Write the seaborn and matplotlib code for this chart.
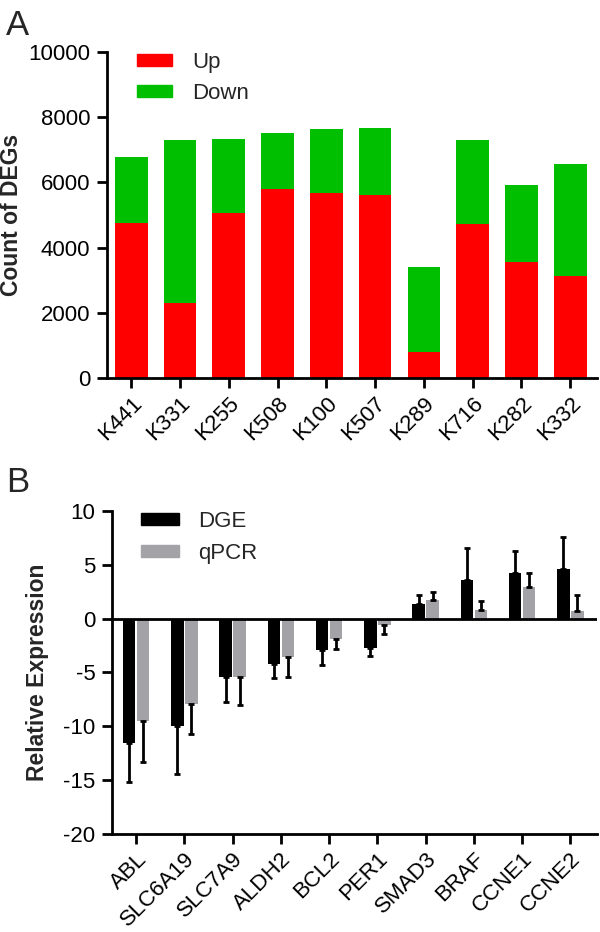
import numpy as np
import pandas as pd
import matplotlib
matplotlib.use("Agg")
import matplotlib.pyplot as plt
import seaborn as sns
from matplotlib.patches import Patch

# ---------------- data ----------------
samples = ["K441", "K331", "K255", "K508", "K100", "K507", "K289", "K716", "K282", "K332"]
up_counts = [4760, 2310, 5055, 5810, 5690, 5605, 805, 4730, 3560, 3115]
total_counts = [6780, 7305, 7335, 7520, 7640, 7680, 3405, 7315, 5930, 6565]

genes = ["ABL", "SLC6A19", "SLC7A9", "ALDH2", "BCL2", "PER1", "SMAD3", "BRAF", "CCNE1", "CCNE2"]
dge_mean = [-11.55, -9.95, -5.4, -4.2, -2.95, -2.7, 1.4, 3.6, 4.2, 4.6]
dge_sd = [3.65, 4.45, 2.3, 1.35, 1.4, 0.8, 0.75, 2.95, 2.1, 3.0]
qpcr_mean = [-9.55, -7.9, -5.45, -3.6, -1.9, -0.6, 1.7, 0.8, 2.95, 0.75]
qpcr_sd = [3.75, 2.8, 2.55, 1.85, 0.9, 0.8, 0.75, 0.85, 1.3, 1.45]

RED = "#FF0000"
GREEN = "#00BF00"
BLACK = "#000000"
GRAY = "#A3A3A7"

sns.set_style("ticks")
plt.rcParams["font.family"] = ["Liberation Sans", "DejaVu Sans"]
plt.rcParams.update({
    "axes.linewidth": 2,
    "axes.unicode_minus": False,
    "xtick.major.width": 2,
    "ytick.major.width": 2,
    "xtick.major.size": 7,
    "ytick.major.size": 7,
    "ytick.major.pad": 5,
    "xtick.labelsize": 16,
    "ytick.labelsize": 16,
    "xtick.color": "black",
    "ytick.color": "black",
    "axes.edgecolor": "black",
})

fig = plt.figure(figsize=(6, 9.32), dpi=100)
ax1 = fig.add_axes([0.178, 0.5944, 0.817, 0.3498])
ax2 = fig.add_axes([0.1867, 0.1052, 0.808, 0.3466])

# =====================================================
# PANEL A — stacked DEG counts
# =====================================================
sns.barplot(x=samples, y=total_counts, color=GREEN, saturation=1,
            width=0.67, linewidth=0, ax=ax1)
sns.barplot(x=samples, y=up_counts, color=RED, saturation=1,
            width=0.67, linewidth=0, ax=ax1)
ax1.set_ylim(0, 10000)
ax1.set_xlim(-0.5, 9.55)
ax1.set_yticks(range(0, 10001, 2000))
ax1.set_ylabel("Count of DEGs", fontsize=16.5, fontweight="bold", labelpad=4)
ax1.set_xlabel("")
plt.setp(ax1.get_xticklabels(), rotation=45, ha="right", rotation_mode="anchor")
sns.despine(ax=ax1)
ax1.legend(handles=[Patch(color=RED, label="Up"), Patch(color=GREEN, label="Down")],
           loc="upper left", bbox_to_anchor=(0.061, 1.0), frameon=False,
           borderaxespad=0, borderpad=0,
           fontsize=16, handlelength=1.6, handleheight=0.4, labelspacing=0.45,
           handletextpad=0.9)

# =====================================================
# PANEL B — DGE vs qPCR validation
# =====================================================
df = pd.DataFrame({
    "gene": genes * 2,
    "method": ["DGE"] * len(genes) + ["qPCR"] * len(genes),
    "value": dge_mean + qpcr_mean,
})
sns.barplot(data=df, x="gene", y="value", hue="method",
            palette={"DGE": BLACK, "qPCR": GRAY}, saturation=1,
            width=0.58, gap=0.1, linewidth=0, errorbar=None, legend=False, ax=ax2)

for cont, means, sds in zip(ax2.containers, [dge_mean, qpcr_mean], [dge_sd, qpcr_sd]):
    xs = [b.get_x() + b.get_width() / 2 for b in cont]
    m = np.array(means)
    s = np.array(sds)
    lower = np.where(m < 0, s, 0)
    upper = np.where(m >= 0, s, 0)
    ax2.errorbar(xs, m, yerr=[lower, upper], fmt="none", ecolor="black",
                 elinewidth=2, capsize=2, capthick=2)

ax2.axhline(0, color="black", lw=2)
ax2.set_ylim(-20, 10)
ax2.set_xlim(-0.5, 9.55)
ax2.set_yticks(range(-20, 11, 5))
ax2.set_ylabel("Relative Expression", fontsize=16.5, fontweight="bold", labelpad=10)
ax2.set_xlabel("")
plt.setp(ax2.get_xticklabels(), rotation=45, ha="right", rotation_mode="anchor")
sns.despine(ax=ax2)
ax2.legend(handles=[Patch(color=BLACK, label="DGE"), Patch(color=GRAY, label="qPCR")],
           loc="upper left", bbox_to_anchor=(0.06, 1.0), frameon=False,
           borderaxespad=0, borderpad=0,
           fontsize=16, handlelength=1.7, handleheight=0.5, labelspacing=0.5,
           handletextpad=0.85)

fig.text(0.01, 0.99, "A", fontsize=25, va="top", ha="left")
fig.text(0.01, 0.5, "B", fontsize=25, va="top", ha="left")

fig.savefig("out.png", dpi=100)
